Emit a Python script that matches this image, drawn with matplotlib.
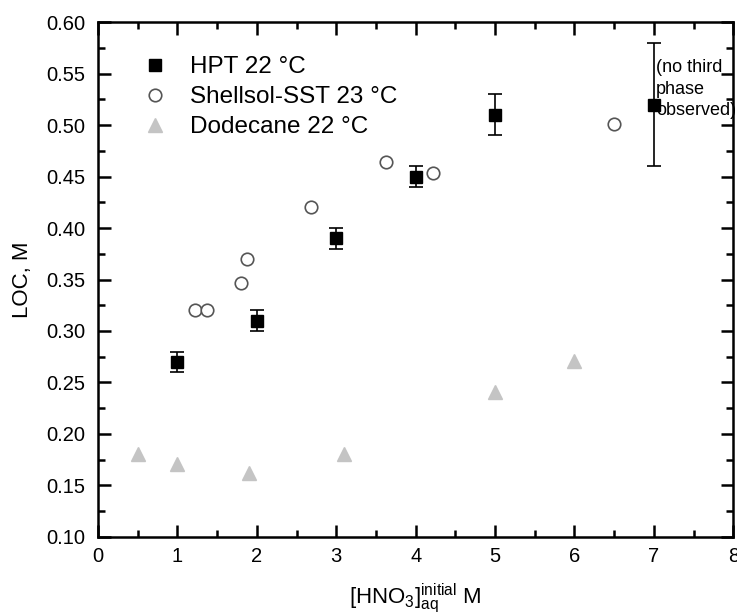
import matplotlib
matplotlib.use('Agg')
import matplotlib.pyplot as plt
from matplotlib.ticker import MultipleLocator, FormatStrFormatter
from matplotlib.lines import Line2D

plt.rcParams['font.family'] = ['Liberation Sans', 'DejaVu Sans']
plt.rcParams['mathtext.fontset'] = 'custom'
plt.rcParams['mathtext.rm'] = 'Liberation Sans'
plt.rcParams['mathtext.it'] = 'Liberation Sans:italic'

# HPT 22 C (with error bars)
hpt_x = [1, 2, 3, 4, 5, 7]
hpt_y = [0.27, 0.31, 0.39, 0.45, 0.51, 0.52]
hpt_err = [0.01, 0.01, 0.01, 0.01, 0.02, 0.06]

# Shellsol-SST 23 C
shell_x = [1.22, 1.37, 1.8, 1.88, 2.68, 3.63, 4.22, 6.5]
shell_y = [0.32, 0.32, 0.347, 0.37, 0.42, 0.464, 0.453, 0.501]

# Dodecane 22 C
dod_x = [0.5, 1.0, 1.9, 3.1, 5.0, 6.0]
dod_y = [0.181, 0.171, 0.162, 0.181, 0.241, 0.271]

labels = ['HPT 22 °C', 'Shellsol-SST 23 °C', 'Dodecane 22 °C']

fig = plt.figure(figsize=(7.37, 6.15), dpi=100)
ax = fig.add_axes([0.133, 0.127, 0.862, 0.837])

ax.errorbar(hpt_x, hpt_y, yerr=hpt_err, fmt='s', color='black', ms=8.5,
            ecolor='black', elinewidth=1.2, capsize=5, capthick=1.2, zorder=3)
ax.plot(shell_x, shell_y, 'o', mfc='white', mec='#555555', mew=1.2, ms=9,
        zorder=2)
ax.plot(dod_x, dod_y, '^', color='#c4c4c4', ms=10, zorder=2)

# note next to the 7 M point
ax.text(7.03, 0.535, '(no third\nphase\nobserved)', fontsize=13,
        ha='left', va='center', linespacing=1.38)

ax.set_xlim(0, 8)
ax.set_ylim(0.10, 0.60)
ax.xaxis.set_major_locator(MultipleLocator(1))
ax.xaxis.set_minor_locator(MultipleLocator(0.5))
ax.yaxis.set_major_locator(MultipleLocator(0.05))
ax.yaxis.set_minor_locator(MultipleLocator(0.025))
ax.yaxis.set_major_formatter(FormatStrFormatter('%.2f'))
ax.tick_params(which='both', direction='in', top=True, right=True,
               width=1.8, labelsize=14.5)
ax.tick_params(which='major', length=9)
ax.tick_params(which='minor', length=5)
ax.tick_params(axis='y', pad=9)
ax.tick_params(axis='x', pad=7)
for s in ax.spines.values():
    s.set_linewidth(1.8)

ax.set_xlabel(r'$[\mathrm{HNO}_3]_{\mathrm{aq}}^{\mathrm{initial}}$ M',
              fontsize=16, labelpad=11)
ax.set_ylabel('LOC, M', fontsize=16, labelpad=10)

handles = [
    Line2D([], [], ls='none', marker='s', color='black', ms=8.5),
    Line2D([], [], ls='none', marker='o', mfc='white', mec='#555555', mew=1.2, ms=9),
    Line2D([], [], ls='none', marker='^', color='#c4c4c4', ms=10),
]
ax.legend(handles, labels, loc='center left', bbox_to_anchor=(0.068, 0.854),
          frameon=False, fontsize=17.5, handletextpad=0.9, labelspacing=0.33,
          handlelength=1.1, borderpad=0, borderaxespad=0)

fig.savefig('out.png', dpi=100)
